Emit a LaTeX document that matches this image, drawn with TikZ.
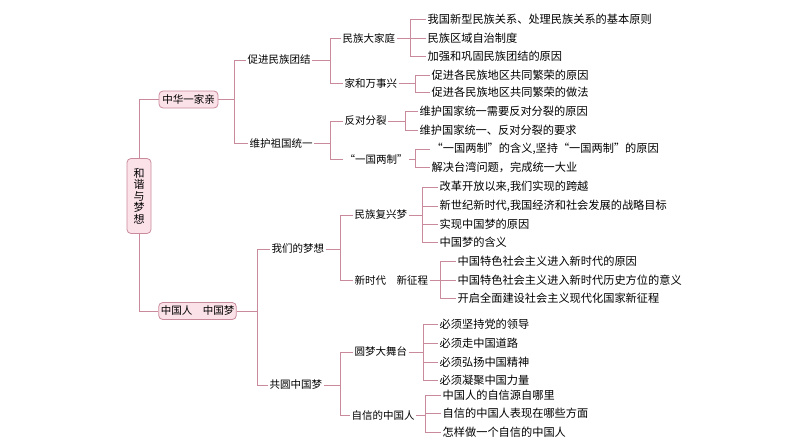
\documentclass[tikz,border=0pt]{standalone}
\usepackage{fontspec}
\setmainfont{Noto Sans CJK SC}
\definecolor{ln}{HTML}{C98A9C}
\definecolor{pk}{HTML}{FBE1E8}
\begin{document}
\begin{tikzpicture}[x=1pt,y=-1pt,
 ln/.style={draw=ln,line width=0.8pt},
 mid/.style={anchor=west,inner sep=1.5pt,font=\fontsize{10.5}{12}\selectfont},
 leaf/.style={anchor=west,inner sep=1.5pt,font=\fontsize{11.2}{12}\selectfont},
 box/.style={draw=ln,fill=pk,rounded corners=4pt,line width=0.8pt,font=\fontsize{10.5}{12}\selectfont,inner sep=2pt}]
\useasboundingbox (0,0) rectangle (794,447);
\node[box,minimum width=24pt,minimum height=75pt,align=center,font=\fontsize{11}{11.5}\selectfont] (root) at (139,196) {和\\谐\\与\\梦\\想};
\node[box,minimum width=59pt,minimum height=17pt] (a) at (188.5,99.5) {中华一家亲};
\node[box,minimum width=77pt,minimum height=17pt] (b) at (197.5,311) {中国人\quad 中国梦};
\draw[ln] (root.north) |- (a.west);
\draw[ln] (root.south) |- (b.west);
\newcommand\br[3]{\draw[ln] (#1.east) -- (#2,0 |- #1.east);
 \foreach \c in {#3} {\draw[ln] (#2,0 |- #1.east) |- (\c.west);}}
% level 2
\node[mid] (a1) at (246,60) {促进民族团结};
\node[mid] (a2) at (248,143) {维护祖国统一};
\node[mid] (b1) at (270,249) {我们的梦想};
\node[mid] (b2) at (268,385) {共圆中国梦};
\br{a}{234}{a1,a2}
\br{b}{257}{b1,b2}
% level 3
\node[mid] (a11) at (341,38) {民族大家庭};
\node[mid] (a12) at (343,83) {家和万事兴};
\node[mid] (a21) at (343,121) {反对分裂};
\node[mid] (a22) at (343,159) {“一国两制”};
\node[mid] (b11) at (353,215) {民族复兴梦};
\node[mid] (b12) at (353,280) {新时代\quad 新征程};
\node[mid] (b21) at (353,352) {圆梦大舞台};
\node[mid] (b22) at (350,415) {自信的中国人};
\br{a1}{330}{a11,a12}
\br{a2}{330}{a21,a22}
\br{b1}{340}{b11,b12}
\br{b2}{340}{b21,b22}
% leaves
\node[leaf] (l1) at (426,19) {我国新型民族关系、处理民族关系的基本原则};
\node[leaf] (l2) at (426,38) {民族区域自治制度};
\node[leaf] (l3) at (426,56) {加强和巩固民族团结的原因};
\br{a11}{410}{l1,l2,l3}
\node[leaf] (l4) at (430,75) {促进各民族地区共同繁荣的原因};
\node[leaf] (l5) at (430,92) {促进各民族地区共同繁荣的做法};
\br{a12}{415}{l4,l5}
\node[leaf] (l6) at (418,111) {维护国家统一需要反对分裂的原因};
\node[leaf] (l7) at (418,130) {维护国家统一、反对分裂的要求};
\br{a21}{405}{l6,l7}
\node[leaf] (l8) at (430,149) {“一国两制”的含义,坚持“一国两制”的原因};
\node[leaf] (l9) at (430,167) {解决台湾问题，完成统一大业};
\br{a22}{415}{l8,l9}
\node[leaf] (m1) at (438,187) {改革开放以来,我们实现的跨越};
\node[leaf] (m2) at (438,206) {新世纪新时代,我国经济和社会发展的战略目标};
\node[leaf] (m3) at (438,224) {实现中国梦的原因};
\node[leaf] (m4) at (438,242) {中国梦的含义};
\br{b11}{422}{m1,m2,m3,m4}
\node[leaf] (m5) at (456,261) {中国特色社会主义进入新时代的原因};
\node[leaf] (m6) at (456,280) {中国特色社会主义进入新时代历史方位的意义};
\node[leaf] (m7) at (456,298) {开启全面建设社会主义现代化国家新征程};
\br{b12}{440}{m5,m6,m7}
\node[leaf] (n1) at (438,324) {必须坚持党的领导};
\node[leaf] (n2) at (438,343) {必须走中国道路};
\node[leaf] (n3) at (438,362) {必须弘扬中国精神};
\node[leaf] (n4) at (438,380) {必须凝聚中国力量};
\br{b21}{423}{n1,n2,n3,n4}
\node[leaf] (n5) at (441,395) {中国人的自信源自哪里};
\node[leaf] (n6) at (441,413) {自信的中国人表现在哪些方面};
\node[leaf] (n7) at (441,432) {怎样做一个自信的中国人};
\br{b22}{425}{n5,n6,n7}
\end{tikzpicture}
\end{document}
